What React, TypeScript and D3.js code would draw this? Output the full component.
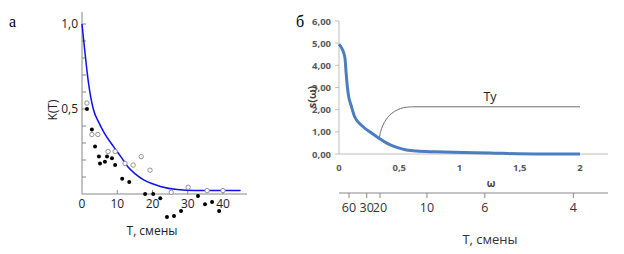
import * as d3 from 'd3';
import React from 'react';

// panel а: correlation function K(T)
const curveT = [0, 0.7, 1.8, 3.2, 4.8, 6.3, 8.9, 11, 13, 15, 17.5, 20, 22.5, 27, 32, 45];
const curveK = [1.0, 0.86, 0.66, 0.5, 0.42, 0.36, 0.28, 0.22, 0.16, 0.12, 0.083, 0.06, 0.043, 0.026, 0.02, 0.02];

const filledT = [1.4, 2.8, 3.7, 4.8, 5.1, 6.5, 7.1, 8.5, 9.4, 11.4, 13.4, 17.9, 20.2, 22.2, 24.1, 26.1, 28.1, 32.9, 34.9, 36.9, 38.9];
const filledK = [0.5, 0.38, 0.28, 0.22, 0.18, 0.19, 0.22, 0.21, 0.17, 0.09, 0.07, 0, 0, -0.025, -0.135, -0.13, -0.1, -0.012, -0.06, -0.047, -0.1];

const openT = [1.4, 2.8, 4.5, 7.4, 9.4, 12.2, 14.5, 16.8, 19.3, 25.3, 30.1, 35.5, 40];
const openK = [0.535, 0.35, 0.35, 0.25, 0.25, 0.18, 0.17, 0.22, 0.14, 0.01, 0.04, 0.02, 0.02];

const leftXTicks = [0, 10, 20, 30, 40];
const leftYLabels = [0.5, 1.0];

// panel б: spectral density s(ω)
const specW = [0, 0.02, 0.04, 0.05, 0.06, 0.07, 0.08, 0.1, 0.13, 0.2, 0.27, 0.335, 0.4, 0.48, 0.56, 0.645, 0.8, 1.03, 1.25, 1.48, 1.7, 2.0];
const specS = [4.95, 4.8, 4.55, 4.3, 3.6, 3.0, 2.6, 2.2, 1.68, 1.23, 0.95, 0.7, 0.48, 0.3, 0.18, 0.13, 0.1, 0.07, 0.05, 0.01, 0.0, 0.0];

// Ty bracket: arc then flat
const tyArcW = [0.335, 0.345, 0.365, 0.39, 0.42, 0.46, 0.51, 0.56, 0.61];
const tyArcS = [0.7, 1.0, 1.3, 1.55, 1.75, 1.92, 2.05, 2.11, 2.13];
const tyFlatW = [0.61, 2.0];
const tyFlatS = [2.13, 2.13];

const rightYTicks = [0, 1, 2, 3, 4, 5, 6];
const rightXTicks = [0, 0.5, 1, 1.5, 2];
const periodLabels = ['60', '30', '20', '10', '6', '4'];
const periodW = [0.083, 0.23, 0.34, 0.73, 1.21, 1.945];

const sans = '"Open Sans", "Liberation Sans", sans-serif';

const App = () => {
  // left scales
  const lx = d3.scaleLinear().domain([0, 40]).range([82, 223]);
  const ly = d3.scaleLinear().domain([0, 1]).range([194, 24]);
  const kLine = d3
    .line<number>()
    .x((_, i) => lx(curveT[i]))
    .y((_, i) => ly(curveK[i]))
    .curve(d3.curveMonotoneX);

  // right scales
  const rx = d3.scaleLinear().domain([0, 2]).range([339, 580]);
  const ry = d3.scaleLinear().domain([0, 6]).range([154, 21]);
  const sLine = d3
    .line<number>()
    .x((_, i) => rx(specW[i]))
    .y((_, i) => ry(specS[i]))
    .curve(d3.curveMonotoneX);
  const arcLine = d3
    .line<number>()
    .x((_, i) => rx(tyArcW[i]))
    .y((_, i) => ry(tyArcS[i]))
    .curve(d3.curveCatmullRom);
  const flatLine = d3
    .line<number>()
    .x((_, i) => rx(tyFlatW[i]))
    .y((_, i) => ry(tyFlatS[i]));

  const fmt = (v: number) => String(v).replace('.', ',');
  const kTicks = d3.range(1, 11).map((i) => i / 10);

  return (
    <svg width={624} height={254} style={{ position: 'absolute', left: 0, top: 0, background: '#fff' }}>
      {/* ---------- а ---------- */}
      <text x={9} y={27} fontFamily='"Liberation Serif", serif' fontSize={16}>а</text>
      <line x1={82} x2={82} y1={12} y2={194} stroke="#888" />
      <line x1={82} x2={247} y1={194} y2={194} stroke="#888" />
      {kTicks.map((t) => (
        <line key={t} x1={82} x2={86} y1={ly(t)} y2={ly(t)} stroke="#888" />
      ))}
      {leftXTicks.slice(1).map((t) => (
        <line key={t} x1={lx(t)} x2={lx(t)} y1={194} y2={190} stroke="#888" />
      ))}
      {leftYLabels.map((t) => (
        <text key={t} x={78} y={ly(t) + 4} textAnchor="end" fontFamily={sans} fontSize={12} fill="#222">
          {t.toFixed(1).replace('.', ',')}
        </text>
      ))}
      {leftXTicks.map((t) => (
        <text key={t} x={lx(t)} y={208} textAnchor="middle" fontFamily={sans} fontSize={12} fill="#222">
          {t}
        </text>
      ))}
      <text transform="translate(57,110) rotate(-90)" textAnchor="middle" fontFamily={sans} fontSize={12} fill="#222">
        K(T)
      </text>
      <text x={152} y={235} textAnchor="middle" fontFamily={sans} fontSize={12} fill="#222">
        T, смены
      </text>
      <path d={kLine(curveT) ?? ''} fill="none" stroke="#1010f0" strokeWidth={1.5} />
      {openT.map((t, i) => (
        <circle key={'o' + i} cx={lx(t)} cy={ly(openK[i])} r={2.2} fill="#fff" stroke="#888" strokeWidth={0.9} />
      ))}
      {filledT.map((t, i) => (
        <circle key={'f' + i} cx={lx(t)} cy={ly(filledK[i])} r={2} fill="#000" />
      ))}

      {/* ---------- б ---------- */}
      <text x={296} y={27} fontFamily='"Liberation Serif", serif' fontSize={16}>б</text>
      <line x1={339} x2={339} y1={21} y2={154} stroke="#bfbfbf" />
      <line x1={339} x2={608} y1={154} y2={154} stroke="#bfbfbf" />
      {rightYTicks.map((t) => (
        <g key={t}>
          <line x1={335} x2={339} y1={ry(t)} y2={ry(t)} stroke="#bfbfbf" />
          <text x={331} y={ry(t) + 3.5} textAnchor="end" fontFamily={sans} fontSize={9.5} fontWeight="bold" fill="#595959">
            {t.toFixed(2).replace('.', ',')}
          </text>
        </g>
      ))}
      {rightXTicks.map((t) => (
        <text key={t} x={rx(t)} y={171} textAnchor="middle" fontFamily={sans} fontSize={9.5} fontWeight="bold" fill="#595959">
          {fmt(t)}
        </text>
      ))}
      <text transform="translate(316,97) rotate(-90)" textAnchor="middle" fontFamily={sans} fontSize={11} fontWeight="bold" fill="#404040">
        s(ω)
      </text>
      <text x={491} y={187} textAnchor="middle" fontFamily={sans} fontSize={10} fontWeight="bold" fill="#404040">
        ω
      </text>
      <path d={arcLine(tyArcW) ?? ''} fill="none" stroke="#6e6e6e" strokeWidth={1} />
      <path d={flatLine(tyFlatW) ?? ''} fill="none" stroke="#6e6e6e" strokeWidth={1} />
      <path d={sLine(specW) ?? ''} fill="none" stroke="#4a7ec0" strokeWidth={3} strokeLinejoin="round" />
      <text x={490} y={101} textAnchor="middle" fontFamily={sans} fontSize={12.5} fill="#222">
        Ty
      </text>

      {/* second axis in periods */}
      <line x1={339} x2={608} y1={193} y2={193} stroke="#888" />
      {periodW.map((w, i) => (
        <g key={i}>
          <line x1={rx(w)} x2={rx(w)} y1={193} y2={198} stroke="#888" />
          <text x={rx(w)} y={212} textAnchor="middle" fontFamily={sans} fontSize={12.5} fill="#333">
            {periodLabels[i]}
          </text>
        </g>
      ))}
      <text x={490} y={244} textAnchor="middle" fontFamily={sans} fontSize={13} fill="#333">
        T, смены
      </text>
    </svg>
  );
};

export default App;
